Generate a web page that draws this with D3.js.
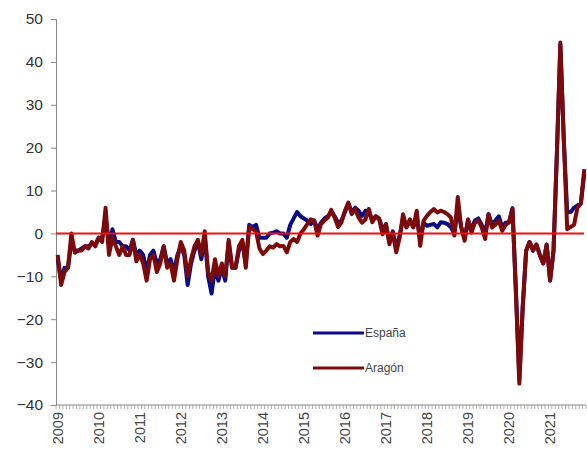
<!DOCTYPE html>
<html>
<head>
<meta charset="utf-8">
<script src="https://cdn.jsdelivr.net/npm/d3@7"></script>
<style>
  body { margin: 0; background: #fff; }
  text { font-family: "Liberation Sans", Arial, sans-serif; }
</style>
</head>
<body>
<script>
// monthly values, Jan 2009 - Nov 2021
var years = ["2009","2010","2011","2012","2013","2014","2015","2016","2017","2018","2019","2020","2021"];
var yTicks = [-40, -30, -20, -10, 0, 10, 20, 30, 40, 50];

var espana = [
  -6, -11, -8, -8, -2, -4, -4, -3.5, -3, -3, -2.5, -2.5,
  -1, -1, 4, -3, 1, -2, -2, -3, -3, -4, -1.5, -5,
  -4, -5, -9, -5, -4, -7, -6, -3, -7, -6, -9, -5,
  -3, -5, -12, -7, -4, -2, -6, -1, -10, -14, -8, -11,
  -8, -11, -2, -8, -8, -4, -2, -7, 2, 1.5, 2, -1,
  -1, -1, 0, 0.2, 0.5, 0, 0, -1, 2, 3.5, 5, 4,
  3.5, 3, 2.2, 3, 1, 2.5, 3.5, 4, 5, 4, 2.5, 3,
  5, 6.9, 5, 6, 5.3, 4, 5.3, 5, 3, 4, 3.5, 1,
  2, -2, 0.5, -3.5, -0.5, 3.5, 1.5, 3, 1.5, 4, -1.5, 2.5,
  1.8, 2, 2.2, 1.4, 2.6, 2.5, 2.2, 1.4, 0, 6, 1.5, -1,
  3, 1, 3, 3.5, 2, 0, 4.5, 2, 3, 4, 1.5, 2.5,
  2.6, 5.9, -13, -34, -17, -4, -2, -4, -2.6, -5, -7, -2.6,
  -11, -4, 19, 44, 22, 5, 5, 6, 6.5, 7, 14
];

var aragon = [
  -5, -12, -9, -8, 0, -4.5, -4, -4, -3, -3.5, -2, -3,
  -1, -2, 6, -5, -1, -3, -5, -3, -5, -5, -1.5, -6.5,
  -5, -7, -11, -6, -5, -9, -7, -3, -8, -7, -11, -6,
  -2, -4, -10, -6, -3, -1.5, -5, 0.5, -9, -11, -6, -10,
  -7, -10, -1.5, -8, -8, -3, -1.5, -8, 1.5, 1, 0.5, -3.5,
  -4.8, -4, -3, -3.3, -2.5, -3, -2.9, -4.4, -2, -1.3, -2, 0,
  1, 2.2, 3.3, 3, -0.5, 2.2, 3, 3.7, 5.5, 3.7, 1.5, 2.6,
  5.3, 7.2, 4.5, 5.7, 3.7, 2.5, 3.3, 5.7, 2.6, 4, 3.3, -0.2,
  2.2, -2.5, 0.2, -4.4, -1, 4.5, 1.4, 3.3, 1.4, 5.3, -2.9, 3,
  4.1, 5, 5.7, 4.9, 5.3, 5, 4.5, 3.7, -0.5, 8.5, 1.4, -1.7,
  3.3, 0.2, 2.5, 3, 1.4, -1.3, 4.5, 1.4, 2, 3, 0.6, 2,
  2.6, 5.7, -14, -35, -17, -4, -2, -4, -2.6, -5, -7, -2.6,
  -11, -4, 19, 44.5, 22, 1, 1.5, 2, 6, 7, 15
];

var w = 587, h = 450;
var padL = 56, padR = 586, padT = 19, padB = 405;
var nMonths = espana.length;

var svg = d3.select("body").append("svg")
  .attr("width", w)
  .attr("height", h);

var x = d3.scaleLinear().domain([0, nMonths]).range([padL, padR]);
var y = d3.scaleLinear().domain([-40, 50]).range([padB, padT]);

// y axis
var yAxis = d3.axisLeft(y).tickValues(yTicks).tickSize(5).tickPadding(8);
var gy = svg.append("g").attr("transform", "translate(" + padL + ",0)").call(yAxis);
gy.select(".domain").attr("stroke", "#888");
gy.selectAll(".tick line").attr("stroke", "#888");
gy.selectAll(".tick text").attr("font-size", 15.5).attr("fill", "#333")
  .style("font-family", "'Liberation Sans', Arial, sans-serif");

// x axis: a tick every month
var gx = svg.append("g").attr("transform", "translate(0," + padB + ")");
gx.append("line").attr("x1", padL).attr("x2", padR).attr("y1", 0).attr("y2", 0)
  .attr("stroke", "#888");
gx.selectAll("line.mt")
  .data(d3.range(nMonths + 1))
  .enter().append("line")
  .attr("class", "mt")
  .attr("x1", function(d) { return x(d); })
  .attr("x2", function(d) { return x(d); })
  .attr("y1", 0).attr("y2", 4)
  .attr("stroke", "#999").attr("stroke-width", 0.8);
gx.selectAll("text.yr")
  .data(years)
  .enter().append("text")
  .attr("class", "yr")
  .attr("transform", function(d, i) { return "translate(" + (x(i * 12 + 0.5) + 5) + ",7) rotate(-90)"; })
  .attr("text-anchor", "end")
  .attr("font-size", 14.5)
  .attr("fill", "#444")
  .text(function(d) { return d; });

var line = d3.line()
  .x(function(d, i) { return x(i + 0.5); })
  .y(function(d) { return y(d); });

svg.append("path").datum(espana)
  .attr("d", line)
  .attr("fill", "none")
  .attr("stroke", "#0a0a85")
  .attr("stroke-width", 4)
  .attr("stroke-linejoin", "round");

svg.append("path").datum(aragon)
  .attr("d", line)
  .attr("fill", "none")
  .attr("stroke", "#7d0a0a")
  .attr("stroke-width", 4)
  .attr("stroke-linejoin", "round");

// zero line
svg.append("line")
  .attr("x1", padL).attr("x2", padR - 2)
  .attr("y1", y(0)).attr("y2", y(0))
  .attr("stroke", "#ee1111").attr("stroke-width", 2);

// legend
var legend = [
  { name: "España", color: "#0a0a85", y: 333 },
  { name: "Aragón", color: "#7d0a0a", y: 368 }
];
var lg = svg.selectAll("g.lg").data(legend).enter().append("g").attr("class", "lg");
lg.append("line")
  .attr("x1", 313).attr("x2", 364)
  .attr("y1", function(d) { return d.y; }).attr("y2", function(d) { return d.y; })
  .attr("stroke", function(d) { return d.color; })
  .attr("stroke-width", 3);
lg.append("text")
  .attr("x", 365).attr("y", function(d) { return d.y + 4; })
  .attr("font-size", 12)
  .attr("fill", "#444")
  .text(function(d) { return d.name; });
</script>
</body>
</html>
